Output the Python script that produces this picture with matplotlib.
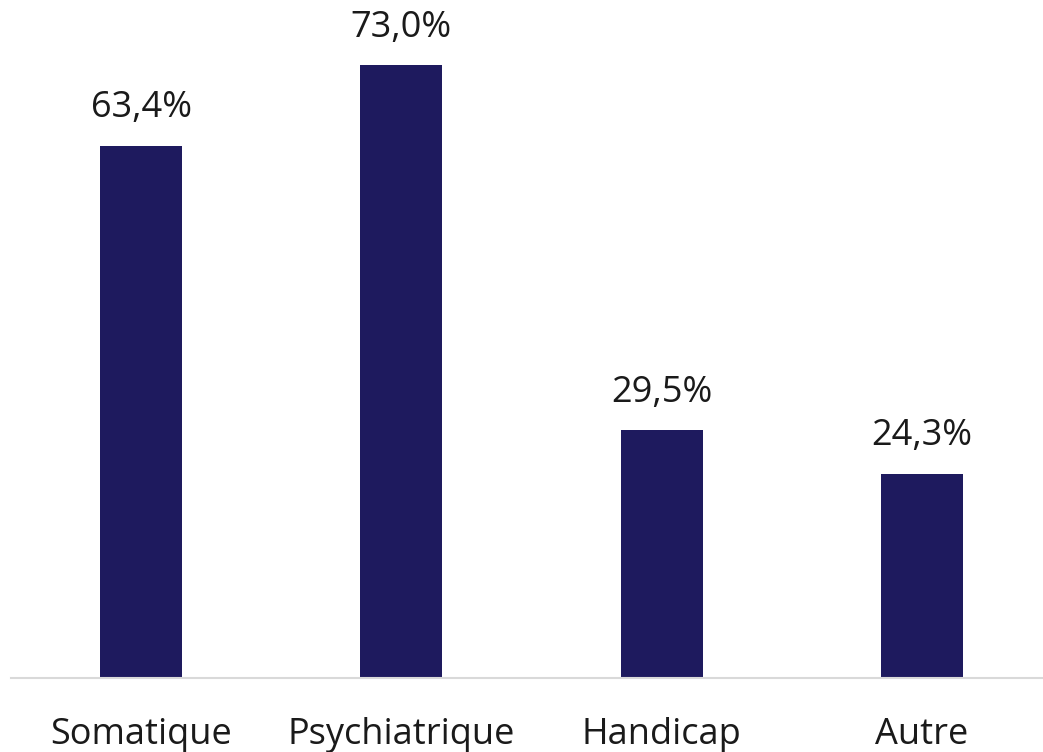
import matplotlib
matplotlib.use("Agg")
import matplotlib.pyplot as plt

categories = ["Somatique", "Psychiatrique", "Handicap", "Autre"]
values = [63.4, 73.0, 29.5, 24.3]
labels = ["63,4%", "73,0%", "29,5%", "24,3%"]

plt.rcParams['font.family'] = ['Open Sans', 'DejaVu Sans']

fig = plt.figure(figsize=(10.43, 7.52), dpi=100)
ax = fig.add_axes([11/1043, 74/752, 1041/1043, 671.8/752])
x = list(range(len(categories)))
bars = ax.bar(x, values, width=0.315, color="#1E1A5E")
ax.set_xlim(-0.5, 3.5)
ax.set_ylim(0, 80)
for xi, v, lab in zip(x, values, labels):
    ax.annotate(lab, (xi, v), xytext=(0, 14), textcoords="offset points",
                ha="center", va="bottom", fontsize=26, color="#1a1a1a")
ax.set_xticks(x)
ax.set_xticklabels(categories, fontsize=26, color="#1a1a1a")
ax.tick_params(axis="x", length=0, pad=28)
ax.set_yticks([])
for s in ["top", "right", "left"]:
    ax.spines[s].set_visible(False)
ax.spines["bottom"].set_color("#D9D9D9")
ax.spines["bottom"].set_linewidth(1.5)
fig.savefig("out.png", dpi=100)
